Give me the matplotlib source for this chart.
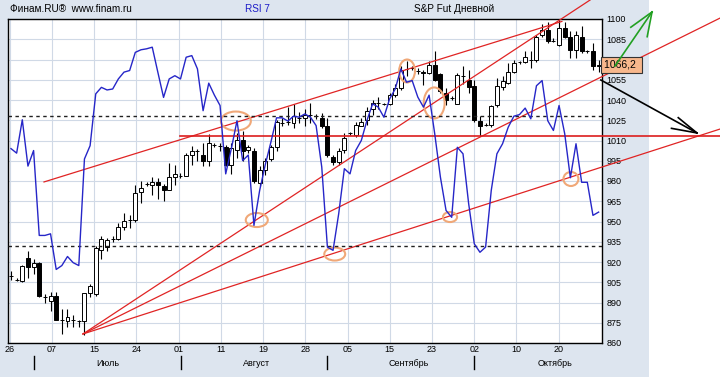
import numpy as np
import matplotlib
matplotlib.use("Agg")
import matplotlib.pyplot as plt
import matplotlib.transforms as mtransforms
from matplotlib.patches import Ellipse, Rectangle

plt.rcParams['font.family'] = ['Liberation Sans', 'DejaVu Sans']
plt.rcParams['font.size'] = 6.5

# daily S&P futures candles, 26 Jun .. late Oct
opens = [910, 907, 906, 923, 916, 919, 894, 891, 895, 877, 876, 877, 876, 876, 897, 896, 929, 931, 937, 937,
         946, 951, 951, 972, 978, 977, 979, 976, 973, 983, 984, 983.5, 999.5, 1002, 999.5, 994.5, 1007, 1006, 1005.5, 992,
         1003, 1010.5, 1003, 1002, 978.5, 988.5, 996, 1005.5, 1023, 1024, 1023, 1026.5, 1026.5, 1029, 1028, 1026.5, 1020.5, 997.5, 994, 1003,
         1015.5, 1014, 1021, 1025.5, 1033, 1038, 1037, 1037, 1043.5, 1049, 1063, 1063.5, 1061.5, 1060.5, 1060, 1066, 1059, 1045, 1041.5, 1037,
         1057.5, 1055, 1050, 1024.5, 1021.5, 1021.5, 1036.5, 1049.5, 1052.5, 1061, 1068, 1068, 1070, 1070, 1088.5, 1092, 1084, 1081, 1093.5, 1087,
         1077, 1087, 1076, 1076, 1065]
highs = [913, 908, 918, 928, 922, 920, 896, 898, 898, 885, 885, 881, 877, 897, 904, 932, 939, 938, 939, 949,
         956, 955, 977, 980, 979, 983, 982, 978, 993, 992, 986, 1001, 1006, 1004, 1008, 1015, 1008, 1008, 1007, 1008,
         1015.5, 1017, 1007, 1004.5, 991, 997, 1007, 1025.5, 1027, 1035, 1037, 1031, 1033, 1038, 1030, 1030.5, 1026.5, 999.5, 1004.5, 1015.5,
         1016.5, 1024, 1026.5, 1035, 1040, 1042.5, 1038, 1045, 1051.5, 1065, 1069, 1065, 1063.5, 1062, 1069, 1076, 1060, 1049, 1043, 1060,
         1065, 1062.5, 1055, 1028, 1023, 1036.5, 1056, 1057.5, 1067.5, 1070, 1069, 1076, 1076, 1088.5, 1096, 1098, 1086, 1099.5, 1098, 1091,
         1091, 1094.5, 1077, 1082, 1069.5]
lows = [907, 906, 905, 908, 911, 894, 890, 884, 877, 867, 872, 872, 872, 866, 894, 895, 922, 928, 935, 936,
        944, 945, 950, 964, 976, 970, 967, 965, 973, 977, 982, 983.5, 992, 995, 991, 991, 1005.5, 1002, 991, 985,
        997, 994.5, 1001, 978.5, 976, 984.5, 994.5, 1002, 1020.5, 1021.5, 1019, 1023, 1020.5, 1023, 1026, 1019, 998, 992, 992, 1000.5,
        1014, 1012.5, 1020.5, 1021.5, 1029, 1033, 1036, 1036.5, 1042.5, 1047.5, 1057.5, 1062, 1059, 1051, 1059, 1054, 1045, 1036.5, 1040, 1037,
        1051.5, 1045, 1024, 1013, 1020.5, 1020, 1035, 1047.5, 1051.5, 1060, 1066.5, 1067.5, 1063.5, 1068.5, 1087, 1082, 1083, 1080, 1086, 1071,
        1071, 1075, 1074.5, 1062.5, 1061]
closes = [910, 907, 917, 916, 919, 895, 894, 895, 877, 877, 879, 877, 876, 897, 902, 930, 937, 936, 937, 946,
          950, 951, 971, 975, 978, 979, 977, 973, 983, 985, 984, 999.5, 1002.5, 1002, 994.5, 1008, 1007, 1006, 992, 1004.5,
          1010.5, 1002, 1005.5, 980, 988.5, 994.5, 1005.5, 1024, 1023, 1024, 1028, 1026.5, 1029, 1029, 1028, 1020.5, 999.5, 994, 1002.5, 1012,
          1015.5, 1021.5, 1024, 1032, 1038, 1038, 1037, 1044, 1049, 1062.5, 1063, 1063.5, 1061.5, 1060, 1066, 1055, 1046.5, 1040, 1041.5, 1058.5,
          1057.5, 1050, 1025.5, 1021, 1021.5, 1035.5, 1050, 1054, 1061, 1067.5, 1068, 1071.5, 1070, 1087, 1092, 1083.5, 1084, 1093.5, 1087, 1077,
          1088.5, 1076, 1076, 1065, 1066.2]
rsi = [60, 58.6, 68.9, 54.6, 59.4, 33.2, 33.2, 33.7, 22.7, 23.9, 26.7, 24.8, 23.9, 56.8, 60.9, 76.9, 78.9, 78.1, 78.4, 81.5,
       83.6, 84.1, 89.7, 90.5, 90.8, 91.3, 83.5, 75.8, 81.5, 82.5, 81.5, 88.2, 88.7, 84.6, 71.7, 80.2, 76.5, 73.3, 52.2, 60,
       68.6, 56.3, 58, 36.3, 47, 55, 62, 69.5, 69.5, 68.5, 70, 69.7, 70.7, 69.7, 67.1, 54.3, 29.6, 28.6, 39.9, 53.8,
       52.2, 59.4, 62.5, 68.7, 73.8, 72.8, 69.7, 75.3, 78.4, 84.6, 80.5, 81, 75.9, 72.8, 76.5, 64.5, 51.2, 40.9, 38.8, 60.4,
       58.4, 43, 30.6, 28, 29.6, 47.1, 58.4, 61.5, 66.6, 70, 70.5, 72.5, 69.2, 79.4, 81, 68.6, 65.6, 73.3, 64.6, 51,
       61.5, 49.6, 49.6, 39.4, 40.4]
last_price = 1066.2

price_ticks = list(range(860, 1101, 15))
# 1070 sits under the last-price box
price_labels = ["" if t == 1070 else str(t) for t in price_ticks]
day_labels = ["26", "07", "15", "24", "01", "11", "19", "28", "05", "15", "23", "02", "10", "20"]
month_labels = ["Июль", "Август", "Сентябрь", "Октябрь"]
month_centers = [17.2, 43.5, 70.3, 96.3]
month_bounds = [4.1, 30.1, 55.9, 81.9]

# hand drawn trend lines: (bar, price) -> (bar, price)
trend_lines = [((12.74, 866.7), (102.5, 1114.1)),
               ((12.74, 866.7), (125.5, 1100.7)),
               ((12.74, 866.7), (125.5, 1018.5)),
               ((5.84, 979.3), (97.5, 1098.2))]
level_line = ((29.9, 1013.3), (125.5, 1013.3))
# marked spots: bar, price, width (bars), height (price)
marks = [(39.8, 1024.4, 5.3, 14.1), (43.5, 951.1, 3.9, 10.4), (57.3, 925.9, 3.7, 9.6),
         (70.1, 1061.5, 2.8, 17), (74.9, 1037.8, 3.7, 23), (77.7, 953.3, 2.5, 7.4), (99.1, 981.5, 2.65, 10.4)]
green_arrow = [(106.9, 1065.2), (113.45, 1105.2)]
green_barbs = [(109.7, 1093.9), (112.6, 1086.9)]
black_arrow = [(104.4, 1054.8), (121.4, 1015.6)]
black_barbs = [(118.1, 1026.9), (116.9, 1019.0)]

fig = plt.figure(figsize=(7.2, 3.77), dpi=100)
fig.patch.set_facecolor("white")
fig.patches.append(Rectangle((0, 0), 649 / 720, 1, transform=fig.transFigure, facecolor="#dde5ef", edgecolor="none", zorder=-10))

pos = [8 / 720, 1 - 343 / 377, 594 / 720, 324 / 377]
ax = fig.add_axes(pos)
ax.set_facecolor("white")

x = np.arange(len(opens))
o = np.array(opens)
c = np.array(closes)
up = c >= o
ax.vlines(x, lows, highs, color="black", lw=0.8, zorder=2)
ax.bar(x[up], (c - o)[up], bottom=o[up], width=0.7, facecolor="white", edgecolor="black", lw=0.7, zorder=3)
ax.bar(x[~up], (o - c)[~up], bottom=c[~up], width=0.7, facecolor="black", edgecolor="black", lw=0.7, zorder=3)

ax.set_xlim(-0.53, 104.6)
ax.set_ylim(860, 1100)
ax.set_xticks(np.arange(len(day_labels)) * 7.47 - 0.2)
ax.set_xticklabels(day_labels)
ax.set_yticks(price_ticks)
ax.set_yticklabels(price_labels)
ax.yaxis.tick_right()
ax.tick_params(axis="x", length=0, pad=1.5)
ax.tick_params(axis="y", length=0, pad=3)
ax.grid(True, color="#d0d9e6", lw=0.8)
ax.set_axisbelow(True)
for s in ax.spines.values():
    s.set_color("black")
    s.set_linewidth(1)

for (x0, y0), (x1, y1) in trend_lines:
    ax.plot([x0, x1], [y0, y1], color="#e02424", lw=0.9, clip_on=False, zorder=5)
(x0, y0), (x1, y1) = level_line
ax.plot([x0, x1], [y0, y1], color="#dc1e1e", lw=1.2, clip_on=False, zorder=5)

for bx, py, w, h in marks:
    ax.add_patch(Ellipse((bx, py), w, h, fill=False, edgecolor="#f0a878", lw=1.5, clip_on=False, zorder=6))

for (p0, p1), barbs, col in [(green_arrow, green_barbs, "#22a022"), (black_arrow, black_barbs, "black")]:
    ax.plot([p0[0], p1[0]], [p0[1], p1[1]], color=col, lw=1.2, clip_on=False, zorder=25)
    for b in barbs:
        ax.plot([b[0], p1[0]], [b[1], p1[1]], color=col, lw=1.2, clip_on=False, zorder=25)

ax.text(1.004, last_price, "1066,2 ", transform=mtransforms.blended_transform_factory(ax.transAxes, ax.transData),
        ha="left", va="center", fontsize=7.5, zorder=20, clip_on=False,
        bbox=dict(boxstyle="square,pad=0.3", facecolor="#f7b78c", edgecolor="#333333", lw=0.8))

trans = mtransforms.blended_transform_factory(ax.transData, fig.transFigure)
for m, mc in zip(month_labels, month_centers):
    ax.text(mc, 1 - 363 / 377, m, transform=trans, ha="center", va="center", clip_on=False)
for mb in month_bounds:
    ax.plot([mb, mb], [1 - 356 / 377, 1 - 369 / 377], transform=trans, color="black", lw=1, clip_on=False)

ax2 = fig.add_axes(pos, facecolor="none")
ax2.set_xlim(ax.get_xlim())
ax2.set_ylim(0, 100)
ax2.axis("off")
ax2.axhline(70, color="#202020", ls=(0, (2.5, 2.5)), lw=1)
ax2.axhline(30, color="#202020", ls=(0, (2.5, 2.5)), lw=1)
ax2.plot(x, rsi, color="#2626c8", lw=1)

fig.text(10 / 720, 1 - 9 / 377, "Финам.RU®  www.finam.ru", va="center", ha="left", fontsize=7.2)
fig.text(245 / 720, 1 - 9 / 377, "RSI 7", va="center", ha="left", color="#1c1cc8", fontsize=7.2)
fig.text(414 / 720, 1 - 9 / 377, "S&P Fut Дневной", va="center", ha="left", fontsize=7.2)

fig.savefig("out.png", dpi=100)
